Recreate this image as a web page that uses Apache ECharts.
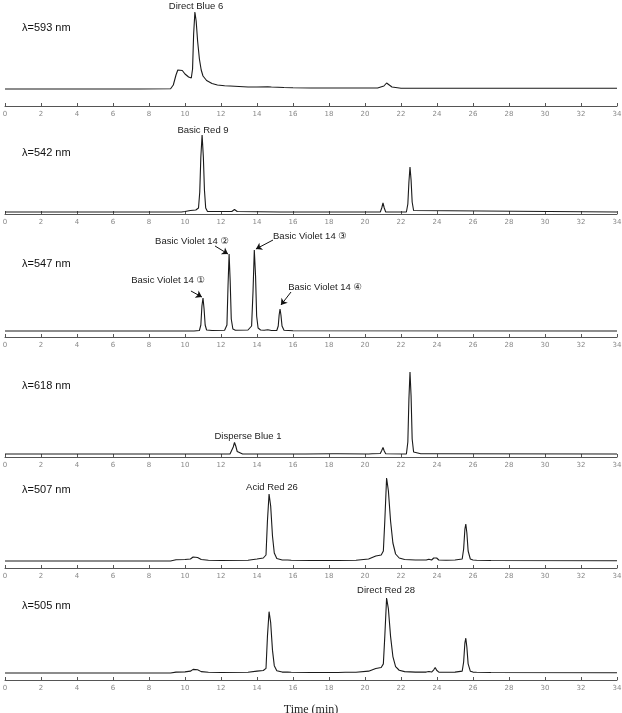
<!DOCTYPE html>
<html><head><meta charset="utf-8">
<script src="https://cdn.jsdelivr.net/npm/echarts@6/dist/echarts.min.js"></script>
<style>html,body{margin:0;padding:0;background:#fff}#c{width:622px;height:713px}</style>
</head><body><div id="c"></div>
<script>
// Tick labels (retention time, min)
const xTicks = [0,2,4,6,8,10,12,14,16,18,20,22,24,26,28,30,32,34];
const wavelengths = ['λ=593 nm','λ=542 nm','λ=547 nm','λ=618 nm','λ=507 nm','λ=505 nm'];

// Chromatogram traces: [time (min), response above baseline]
const data593 = [[0,0],[0.9,0],[1.0,0.5],[1.1,0],[1.45,0],[1.5,-1.5],[1.55,0],[7.2,0],[7.3,0.4],[7.4,0],[9.2,0.3],[9.35,4],[9.5,14],[9.6,19],[9.7,20],[9.85,18.5],[10.0,15],[10.2,12],[10.35,11],[10.42,20],[10.48,55],[10.55,77],[10.62,68],[10.7,48],[10.8,30],[10.9,19],[11.0,13],[11.2,8.5],[11.5,5.5],[11.8,4],[12.2,3.2],[12.5,3],[13,2.5],[13.5,2],[14,2],[14.6,2.2],[14.7,3.5],[14.8,2],[15.5,1.5],[16,1.2],[17,1],[19.5,1],[19.6,1.5],[19.7,1],[20.7,1],[20.8,2],[21.05,3],[21.2,6],[21.35,4],[21.5,2],[21.6,1],[22,0.8],[25.5,0.8],[25.6,1.5],[25.7,0.8],[34,0.8]];
const data542 = [[0,0],[9.8,0],[10.0,0.5],[10.3,1.5],[10.6,2],[10.75,4],[10.82,20],[10.88,55],[10.95,77],[11.02,55],[11.08,22],[11.15,4],[11.25,0.5],[12.6,0.5],[12.75,2.5],[12.9,0.5],[15.3,0],[18.4,0],[18.5,1],[18.6,0],[19.45,0],[19.5,0.5],[19.55,0],[20.85,0],[20.93,4],[21.0,9],[21.07,4],[21.15,0],[22.3,0],[22.38,8],[22.44,30],[22.5,45],[22.56,32],[22.62,10],[22.7,1.5],[22.8,0],[34,0]];
const data547 = [[0,0],[0.85,0],[0.9,1],[0.95,0],[1.45,0],[1.5,0.7],[1.55,0],[10.5,0],[10.8,0.5],[10.88,6],[10.94,25],[11.0,33],[11.06,22],[11.12,6],[11.2,1],[11.5,0.5],[12.2,0.8],[12.33,6],[12.39,45],[12.45,77],[12.51,50],[12.57,12],[12.66,2],[12.8,0.8],[13.5,1],[13.7,5],[13.78,40],[13.85,81],[13.92,55],[13.98,15],[14.06,3],[14.2,1],[14.4,0.8],[14.6,1.2],[14.8,0.5],[15.1,0.5],[15.18,5],[15.23,16],[15.28,22],[15.33,16],[15.39,5],[15.5,0.8],[16,0.3],[34,0]];
const data618 = [[0,0],[10.1,0],[10.2,0.4],[10.3,0],[10.8,0],[10.9,1],[11.0,0],[12.5,0],[12.6,2],[12.68,7],[12.75,11.5],[12.82,8],[12.9,2.5],[13.0,0.5],[13.2,0],[15.3,0],[15.4,1.3],[15.5,0],[16.5,0],[16.6,1.3],[16.7,0],[18.2,0.3],[18.5,0.3],[20.2,0],[20.3,1],[20.4,0.3],[20.85,0.5],[20.93,3.5],[21.0,6.5],[21.07,3],[21.15,0.3],[22.3,0],[22.38,12],[22.44,55],[22.5,82],[22.56,58],[22.62,15],[22.7,2],[22.8,0.3],[23.1,0.3],[23.2,1.3],[23.3,0.3],[34,0]];
const data507 = [[0,0],[9.2,0],[9.5,1.2],[10.0,1.5],[10.3,2],[10.45,4],[10.55,5],[10.7,3.5],[10.9,1.5],[11.3,0.8],[12,0.5],[13.5,0.8],[14.0,2],[14.35,3],[14.5,6],[14.58,40],[14.67,67],[14.76,55],[14.86,25],[14.96,8],[15.1,2.5],[15.4,1],[15.7,1],[15.8,1.8],[15.9,0.8],[17,0.5],[18.5,0.5],[19.5,0.8],[20.2,2],[20.6,5],[20.9,6],[21.02,10],[21.1,40],[21.2,83],[21.3,70],[21.42,40],[21.55,18],[21.7,7],[21.9,3],[22.2,1.5],[22.8,1],[23.0,1],[23.1,2.3],[23.2,1],[23.4,1],[23.55,1.8],[23.7,1],[23.82,3],[23.9,5],[23.98,3],[24.1,1],[24.5,0.8],[25.0,1],[25.2,1.5],[25.4,2],[25.48,12],[25.55,32],[25.6,37],[25.66,28],[25.73,10],[25.85,2],[26.0,1],[26.1,1.5],[26.2,0.8],[27,0.5],[34,0.3]];
const data505 = [[0,0],[9.2,0],[9.5,1],[10.0,1.2],[10.3,2],[10.45,4],[10.55,5],[10.7,3.5],[10.9,1.5],[11.3,0.8],[12,0.5],[13.5,0.8],[14.0,2],[14.35,2.7],[14.5,5],[14.58,40],[14.67,67],[14.76,55],[14.86,25],[14.96,8],[15.1,2.5],[15.4,1],[15.7,1],[15.8,1.6],[15.9,0.8],[17,0.5],[18.5,0.6],[18.9,0.8],[19.5,0.8],[20.2,2],[20.6,5],[20.9,6],[21.02,10],[21.1,40],[21.2,82],[21.3,70],[21.42,40],[21.55,18],[21.7,7],[21.9,3],[22.2,1.5],[22.8,1],[23.0,1],[23.1,2.2],[23.2,1],[23.4,1],[23.55,1.6],[23.7,1],[23.82,3.5],[23.9,6],[23.98,3],[24.1,1],[24.5,0.8],[25.0,1],[25.2,1.5],[25.4,2],[25.48,12],[25.55,33],[25.6,38],[25.66,28],[25.73,10],[25.85,2],[26.0,1],[26.1,1.5],[26.2,0.8],[27,0.5],[34,0.3]];
const traces = [data593, data542, data547, data618, data507, data505];

// Peak annotations: [panel, text, time, response]
const peakLabels = [
  [0,'Direct Blue 6',10.61,83],
  [1,'Basic Red 9',11.0,82],
  [2,'Basic Violet 14 ①',9.06,51],
  [2,'Basic Violet 14 ②',10.39,90],
  [2,'Basic Violet 14 ③',16.94,95],
  [2,'Basic Violet 14 ④',17.78,44],
  [3,'Disperse Blue 1',13.5,18],
  [4,'Acid Red 26',14.83,74],
  [5,'Direct Red 28',21.17,90]
];
// Arrows in panel 3: [fromTime, fromResp, toTime, toResp]
const arrows547 = [
  [10.33,40,10.94,34],
  [11.67,85,12.39,77],
  [14.89,91,13.94,82],
  [15.89,39,15.33,26]
];

// layout: grid top, axis line y, baseline y (px), px per unit
const layout = [
  {top:0, axis:106, base:89, k:1, lam:28},
  {top:118, axis:214, base:212, k:1, lam:153},
  {top:228, axis:337, base:331, k:1, lam:264},
  {top:360, axis:457, base:454, k:1, lam:386},
  {top:472, axis:568, base:561, k:1, lam:490},
  {top:580, axis:680, base:673, k:0.915, lam:606}
];
const grids=[], xAxes=[], yAxes=[], series=[], titles=[];
layout.forEach((L,i)=>{
  grids.push({left:5,right:5,top:L.top,height:L.axis-L.top,outerBoundsMode:'none',containLabel:false});
  xAxes.push({
    type:'value', gridIndex:i, min:0, max:34, interval:2,
    axisLine:{onZero:false,lineStyle:{color:'#555',width:1}},
    axisTick:{inside:true,length:3,lineStyle:{color:'#555'}},
    splitLine:{show:false},
    axisLabel:{fontSize:7,color:'#888',margin:5,fontFamily:'DejaVu Sans',
      formatter:v=>xTicks.includes(v)?String(v):''},
    name: i===5?'Time (min)':'', nameLocation:'middle', nameGap:24,
    nameTextStyle:{fontFamily:'Liberation Serif',fontSize:12,color:'#222'}
  });
  yAxes.push({type:'value',gridIndex:i,min:-(L.axis-L.base)/L.k,max:(L.base-L.top)/L.k,show:false});
  titles.push({text:wavelengths[i],left:22,top:L.lam-6,padding:0,textStyle:{fontFamily:'Liberation Sans',fontSize:11,fontWeight:'normal',color:'#111'}});
  const mp = peakLabels.filter(p=>p[0]===i).map(p=>({
    coord:[p[2],p[3]], value:p[1],
    symbol:'circle', symbolSize:0,
    label:{show:true,position:'inside',formatter:p[1],fontFamily:'Liberation Sans, DejaVu Sans',fontSize:9.5,color:'#222'}
  }));
  const s = {
    type:'line', xAxisIndex:i, yAxisIndex:i, data:traces[i],
    showSymbol:false, symbol:'none', clip:false,
    lineStyle:{color:'#1a1a1a',width:1.1},
    markPoint:{data:mp, animation:false},
    silent:true
  };
  if(i===2){
    s.markLine = {
      silent:true, symbol:['none','arrow'], symbolSize:6, animation:false,
      lineStyle:{color:'#111',width:1,type:'solid'}, label:{show:false},
      data: arrows547.map(a=>[{coord:[a[0],a[1]]},{coord:[a[2],a[3]]}])
    };
  }
  series.push(s);
});
const chart = echarts.init(document.getElementById('c'),null,{renderer:'canvas'});
chart.setOption({animation:false,backgroundColor:'#fff',title:titles,grid:grids,xAxis:xAxes,yAxis:yAxes,series:series});
</script></body></html>
